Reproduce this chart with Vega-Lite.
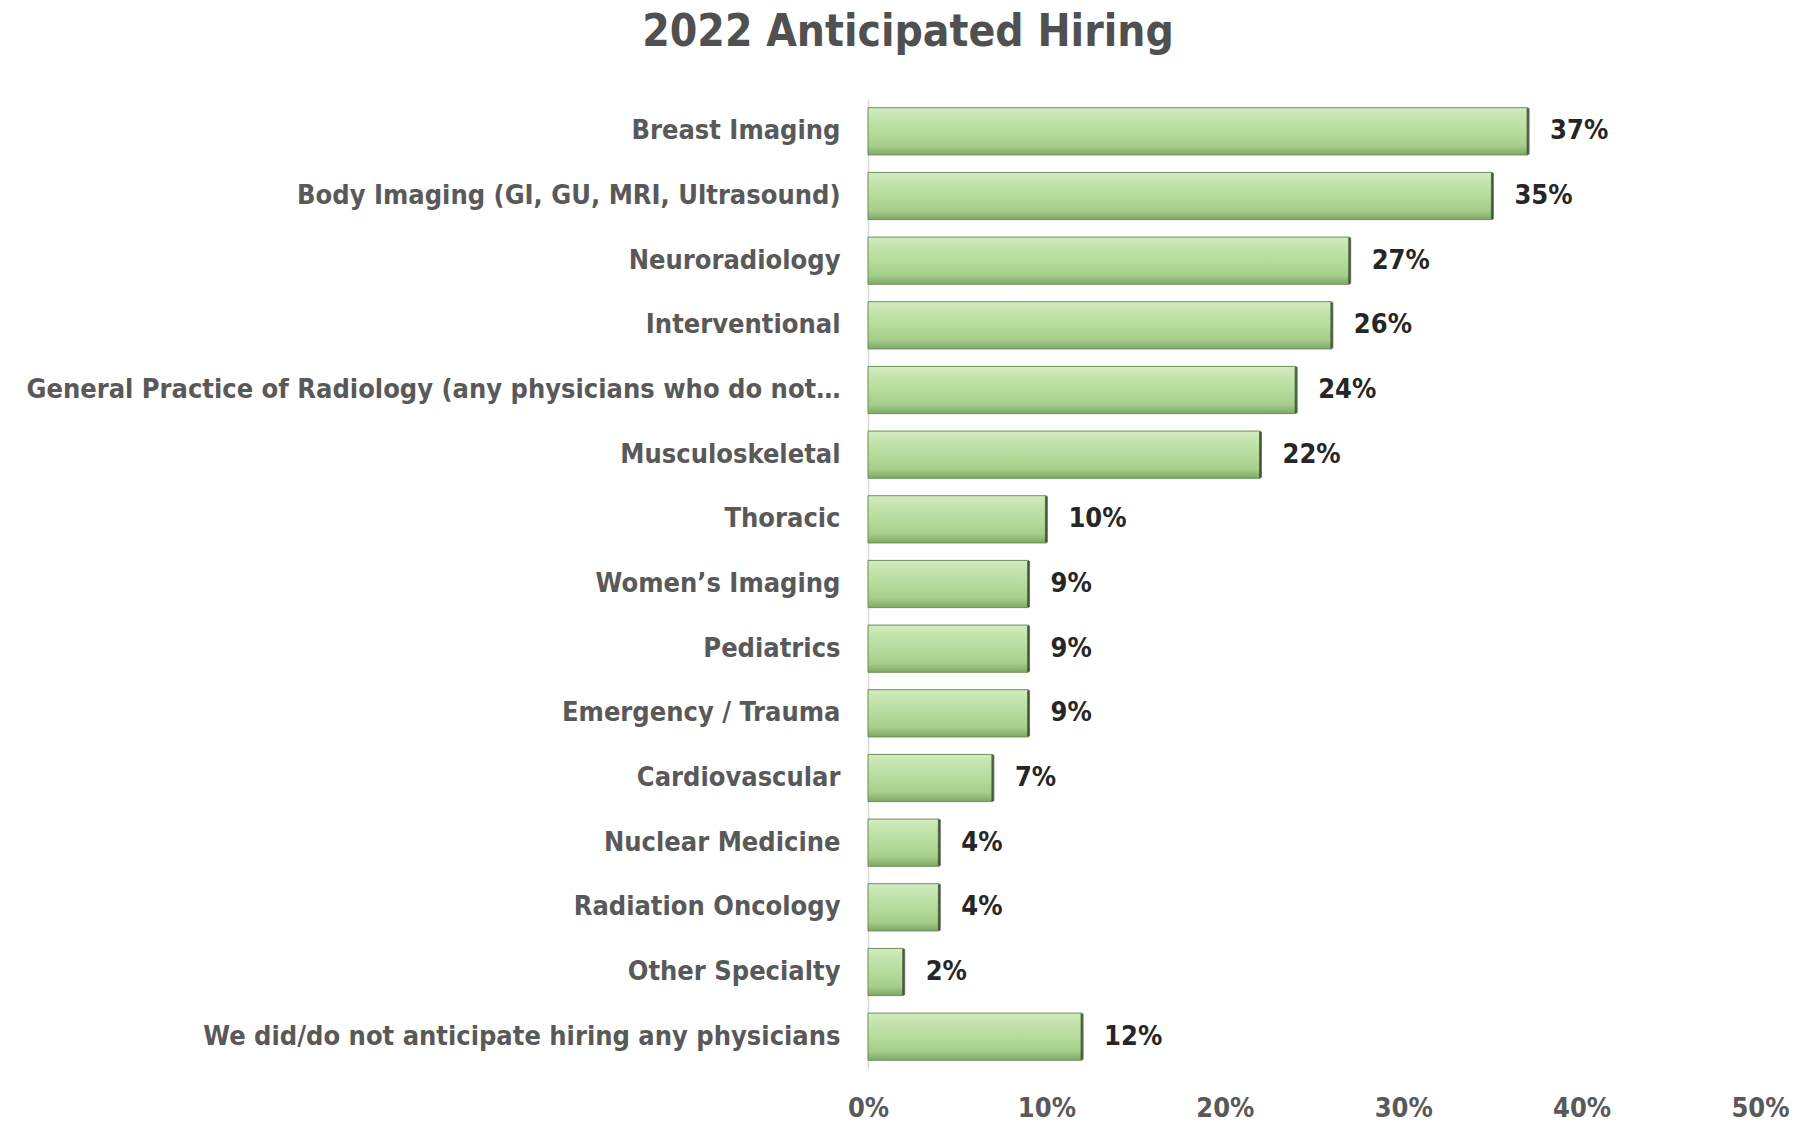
{
  "$schema": "https://vega.github.io/schema/vega-lite/v6.json",
  "width": 892,
  "height": 970,
  "autosize": {"type": "none"},
  "padding": {"left": 868, "top": 99, "right": 40, "bottom": 60},
  "background": "white",
  "config": {"view": {"stroke": null}},
  "title": {
    "text": "2022 Anticipated Hiring",
    "font": "DejaVu Sans Condensed",
    "fontSize": 44,
    "fontWeight": "bold",
    "color": "#505050",
    "anchor": "middle",
    "frame": "group",
    "dx": -406,
    "offset": 44
  },
  "data": {
    "values": [
      {"category": "Breast Imaging", "value": 0.37},
      {"category": "Body Imaging (GI, GU, MRI, Ultrasound)", "value": 0.35},
      {"category": "Neuroradiology", "value": 0.27},
      {"category": "Interventional", "value": 0.26},
      {"category": "General Practice of Radiology (any physicians who do not…", "value": 0.24},
      {"category": "Musculoskeletal", "value": 0.22},
      {"category": "Thoracic", "value": 0.10},
      {"category": "Women’s Imaging", "value": 0.09},
      {"category": "Pediatrics", "value": 0.09},
      {"category": "Emergency / Trauma", "value": 0.09},
      {"category": "Cardiovascular", "value": 0.07},
      {"category": "Nuclear Medicine", "value": 0.04},
      {"category": "Radiation Oncology", "value": 0.04},
      {"category": "Other Specialty", "value": 0.02},
      {"category": "We did/do not anticipate hiring any physicians", "value": 0.12}
    ]
  },
  "encoding": {
    "y": {
      "field": "category",
      "type": "nominal",
      "sort": null,
      "scale": {"paddingInner": 0.27, "paddingOuter": 0.135},
      "axis": {
        "title": null,
        "ticks": false,
        "domain": true,
        "domainColor": "#d9d9d9",
        "domainWidth": 1.5,
        "labelFont": "DejaVu Sans Condensed",
        "labelFontSize": 27,
        "labelFontWeight": "bold",
        "labelColor": "#595959",
        "labelPadding": 28,
        "labelLimit": 900
      }
    },
    "x": {
      "field": "value",
      "type": "quantitative",
      "scale": {"domain": [0, 0.5], "nice": false},
      "axis": {
        "title": null,
        "format": ".0%",
        "values": [0, 0.1, 0.2, 0.3, 0.4, 0.5],
        "grid": false,
        "ticks": false,
        "domain": false,
        "labelFont": "DejaVu Sans Condensed",
        "labelFontSize": 27,
        "labelFontWeight": "bold",
        "labelColor": "#595959",
        "labelPadding": 26,
        "labelFlush": false
      }
    }
  },
  "layer": [
    {
      "mark": {
        "type": "bar",
        "stroke": "#6d8f5a",
        "strokeWidth": 1,
        "color": {
          "gradient": "linear",
          "x1": 0, "y1": 0, "x2": 0, "y2": 1,
          "stops": [
            {"offset": 0, "color": "#d3ecc0"},
            {"offset": 0.2, "color": "#c4e4ad"},
            {"offset": 0.5, "color": "#b6dc9c"},
            {"offset": 0.8, "color": "#a6cf8b"},
            {"offset": 1, "color": "#7fa866"}
          ]
        }
      }
    },
    {
      "mark": {"type": "tick", "orient": "vertical", "thickness": 3, "size": 46, "color": "#2e3d28"}
    },
    {
      "mark": {
        "type": "text",
        "align": "left",
        "baseline": "middle",
        "dx": 22,
        "font": "DejaVu Sans Condensed",
        "fontSize": 27,
        "fontWeight": "bold",
        "color": "#262626"
      },
      "encoding": {
        "text": {"field": "value", "type": "quantitative", "format": ".0%"}
      }
    }
  ]
}
